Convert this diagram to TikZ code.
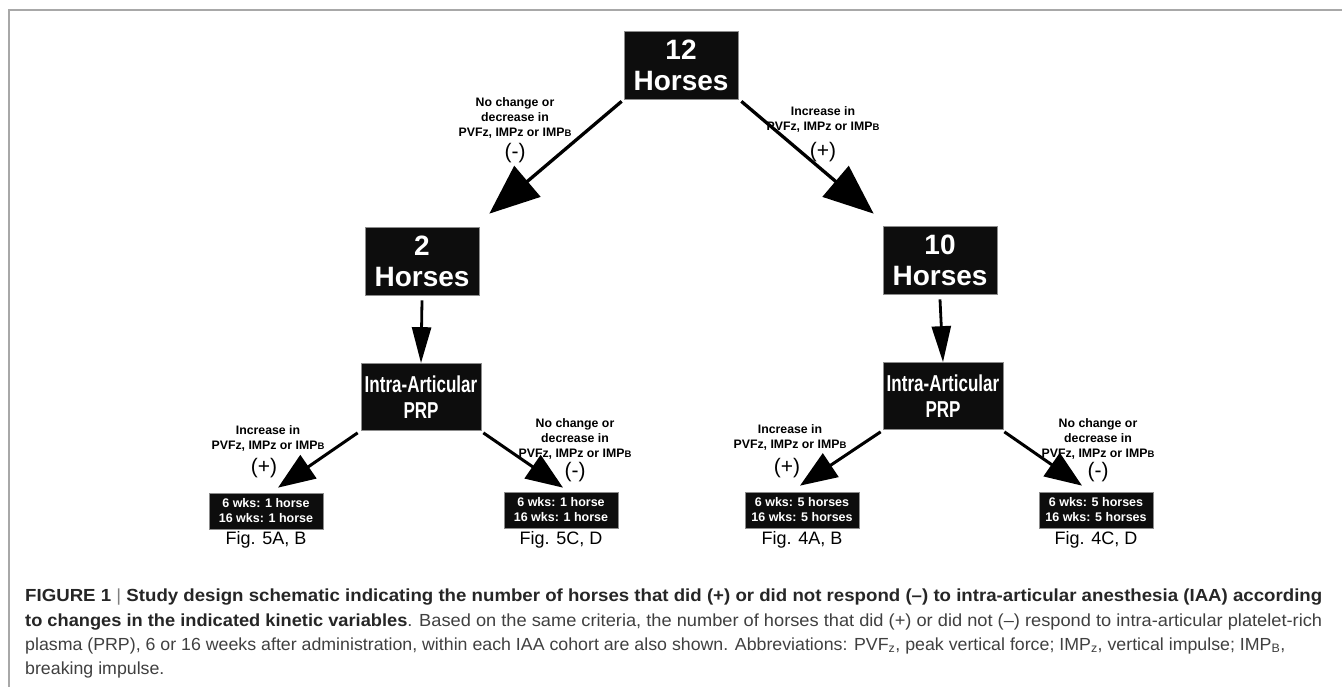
\documentclass[tikz,border=0pt]{standalone}
\usepackage{fontspec}
\usepackage{graphicx}
\setmainfont{Liberation Sans}
\newfontfamily\narrowbf[FakeStretch=0.74]{Liberation Sans}
\usetikzlibrary{arrows.meta}
\definecolor{capgray}{HTML}{404040}
\definecolor{capdark}{HTML}{262626}
\definecolor{framegray}{HTML}{A8A8A8}
\newlength\capW
\newcommand\smB{{\fontsize{9.5}{9.5}\selectfont B}}
\newcommand\capthree{plasma (PRP), 6 or 16 weeks after administration, within each IAA cohort are also shown. Abbreviations: PVF\textsubscript{z}, peak vertical force; IMP\textsubscript{z}, vertical impulse; IMP\textsubscript{B},}
\begin{document}
\settowidth{\capW}{\fontsize{17.5}{20}\selectfont\capthree}%
\pgfmathsetmacro\capsc{1260/\capW}%
\begin{tikzpicture}[x=1pt,y=-1pt,
  blk/.style={fill=black!95, draw=black!45, line width=0.7pt, text=white, align=center, inner sep=0pt},
  bigbox/.style={blk, minimum width=114pt, minimum height=68pt, font=\fontsize{28}{31}\selectfont\bfseries},
  prpbox/.style={blk, minimum width=120pt, minimum height=67pt, font=\narrowbf\fontsize{23}{26}\selectfont\bfseries},
  outbox/.style={blk, minimum width=114pt, minimum height=36pt, font=\fontsize{12.5}{15}\selectfont\bfseries},
  lbl/.style={align=center, font=\fontsize{12.3}{15}\selectfont\bfseries, inner sep=0pt},
  sgn/.style={font=\fontsize{21}{23}\selectfont, inner sep=0pt},
  figl/.style={font=\fontsize{18}{20}\selectfont, inner sep=0pt},
  arrbig/.style={line width=3.3pt, -{Triangle[length=50pt,width=40pt]}},
  arrv/.style={line width=2.8pt, -{Triangle[length=36pt,width=19pt]}},
  arrsm/.style={line width=3pt, -{Triangle[length=37pt,width=28pt]}},
  captxt/.style={anchor=base west, inner sep=0pt, text=capgray, font=\fontsize{17.5}{20}\selectfont},
]
\useasboundingbox (0,0) rectangle (1342,687);
\fill[white] (0,0) rectangle (1342,687);
\draw[framegray, line width=1.5pt] (9,687) -- (9,10) -- (1342,10);

% boxes
\node[bigbox] (h12) at (681,65) {12\\Horses};
\node[bigbox] (h2) at (422,261) {2\\Horses};
\node[bigbox] (h10) at (940,260) {10\\Horses};
\node[prpbox] (prpL) at (421,397) {Intra-Articular\\PRP};
\node[prpbox] (prpR) at (943,396) {Intra-Articular\\PRP};
\node[outbox] (oL1) at (266,511) {6 wks: 1 horse\\16 wks: 1 horse};
\node[outbox] (oL2) at (561,510) {6 wks: 1 horse\\16 wks: 1 horse};
\node[outbox] (oR1) at (802,510) {6 wks: 5 horses\\16 wks: 5 horses};
\node[outbox] (oR2) at (1096,510) {6 wks: 5 horses\\16 wks: 5 horses};

% figure references
\node[figl] (fL1) at (266,540) {Fig. 5A, B};
\node[figl] (fL2) at (561,540) {Fig. 5C, D};
\node[figl] (fR1) at (802,540) {Fig. 4A, B};
\node[figl] (fR2) at (1096,540) {Fig. 4C, D};

% arrows
\draw[arrbig] ([shift={(-2,2)}]h12.south west) -- ([shift={(10,-13)}]h2.north east);
\draw[arrbig] ([shift={(3,2)}]h12.south east) -- ([shift={(-9,-12)}]h10.north west);
\draw[arrv] ([shift={(0,5)}]h2.south) -- (prpL.north);
\draw[arrv] ([shift={(0,5)}]h10.south) -- (prpR.north);
\draw[arrsm] ([shift={(-3,2)}]prpL.south west) -- ([shift={(12,-5)}]oL1.north);
\draw[arrsm] ([shift={(2,2)}]prpL.south east) -- ([shift={(2,-4)}]oL2.north);
\draw[arrsm] ([shift={(-2,2)}]prpR.south west) -- ([shift={(-2,-6)}]oR1.north);
\draw[arrsm] ([shift={(1,2)}]prpR.south east) -- ([shift={(-14,-6)}]oR2.north);

% arrow labels
\node[lbl] (t1) at (515,118) {No change or\\decrease in\\PVFz, IMPz or IMP\smB};
\node[sgn] (t1s) at (515,153) {(-)};
\node[lbl] (t2) at (823,119) {Increase in\\PVFz, IMPz or IMP\smB};
\node[sgn] (t2s) at (823,152) {(+)};
\node[lbl] (l1) at (268,438) {Increase in\\PVFz, IMPz or IMP\smB};
\node[sgn] (l1s) at (264,468) {(+)};
\node[lbl] (l2) at (575,439) {No change or\\decrease in\\PVFz, IMPz or IMP\smB};
\node[sgn] (l2s) at (575,472) {(-)};
\node[lbl] (r1) at (790,437) {Increase in\\PVFz, IMPz or IMP\smB};
\node[sgn] (r1s) at (787,468) {(+)};
\node[lbl] (r2) at (1098,439) {No change or\\decrease in\\PVFz, IMPz or IMP\smB};
\node[sgn] (r2s) at (1098,472) {(-)};

% caption
\node[captxt] (c1) at (25,601) {\resizebox{1297pt}{\height}{\color{capdark}\bfseries FIGURE 1 {\mdseries\color{gray}|} Study design schematic indicating the number of horses that did (+) or did not respond (--) to intra-articular anesthesia (IAA) according}};
\node[captxt] (c2) at (25,626) {\resizebox{1297pt}{\height}{{\color{capdark}\bfseries to changes in the indicated kinetic variables}. Based on the same criteria, the number of horses that did (+) or did not (--) respond to intra-articular platelet-rich}};
\node[captxt] (c3) at (25,650) {\resizebox{1260pt}{\height}{\capthree}};
\node[captxt] (c4) at (25,674) {\scalebox{\capsc}[1]{breaking impulse.}};
\end{tikzpicture}
\end{document}
